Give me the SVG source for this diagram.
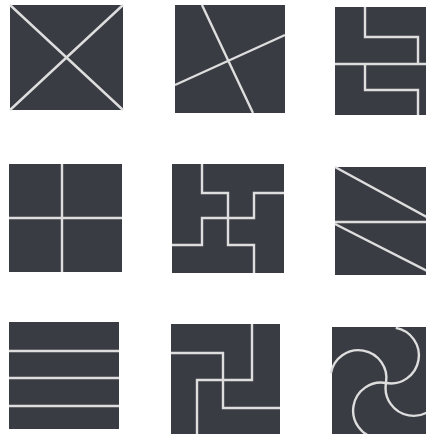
<svg xmlns="http://www.w3.org/2000/svg" width="426" height="434" viewBox="0 0 426 434">
<style>
.tile{fill:#3a3c44}
.ln{fill:none;stroke:#dedede;stroke-width:2.4;stroke-linecap:butt;stroke-linejoin:miter}
</style>
<rect x="0" y="0" width="426" height="434" fill="#ffffff"/>
<g id="t1">
<rect class="tile" x="10" y="5" width="113" height="105"/>
<path class="ln" d="M10,5 L123,110 M123,5 L10,110"/>
</g>
<g id="t2">
<rect class="tile" x="175" y="5" width="110" height="108"/>
<path class="ln" d="M202,5 L253,113 M175,85 L285,35"/>
</g>
<g id="t3">
<rect class="tile" x="335" y="7" width="112" height="108"/>
<path class="ln" d="M365,7 V37 H418 V64 M335,64 H447 M365,64 V90 H418 V115"/>
</g>
<g id="t4">
<rect class="tile" x="9" y="164" width="113" height="108"/>
<path class="ln" d="M62,164 V272 M9,218 H122"/>
</g>
<g id="t5">
<rect class="tile" x="172" y="164" width="112" height="109"/>
<path class="ln" d="M202,164 V193 H228 V218 M284,193 H254 V218 H228 M254,273 V245 H228 V218 M172,245 H202 V218 H228"/>
</g>
<g id="t6">
<rect class="tile" x="335" y="167" width="112" height="108"/>
<path class="ln" d="M335,167 L447,228 M335,222 H447 M335,224 L447,281"/>
</g>
<g id="t7">
<rect class="tile" x="9" y="322" width="110" height="107"/>
<path class="ln" d="M9,351 H119 M9,378 H119 M9,406 H119"/>
</g>
<g id="t8">
<rect class="tile" x="171" y="324" width="109" height="116"/>
<path class="ln" d="M252,324 V380 H197 V440 M171,353 H223 V408 H280"/>
</g>
<g id="t9">
<rect class="tile" x="332" y="327" width="115" height="113"/>
<g transform="translate(386,383) rotate(10)">
<path class="ln" d="M0,0 A28,28 0 0 0 0,-56"/>
<path class="ln" d="M0,0 A28,28 0 0 0 0,-56" transform="rotate(90)"/>
<path class="ln" d="M0,0 A28,28 0 0 0 0,-56" transform="rotate(180)"/>
<path class="ln" d="M0,0 A28,28 0 0 0 0,-56" transform="rotate(270)"/>
</g>
</g>
</svg>
